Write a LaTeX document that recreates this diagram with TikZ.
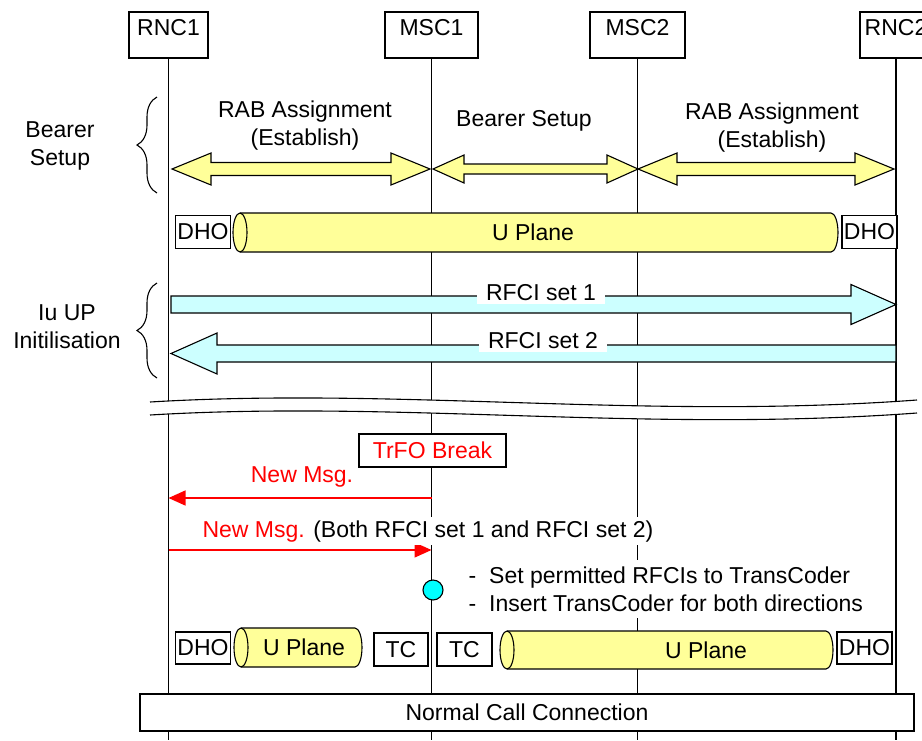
\documentclass[tikz,border=0pt]{standalone}
\usepackage{fontspec}
\setmainfont{Liberation Sans}
\usetikzlibrary{arrows.meta}
\usetikzlibrary{decorations.pathreplacing}
\definecolor{upyellow}{HTML}{FFFF99}
\definecolor{rficyan}{HTML}{CCFFFF}
\definecolor{tcdot}{HTML}{00FFFF}

\begin{document}
\begin{tikzpicture}[x=1pt, y=-1pt, line width=1.1pt, font=\fontsize{23}{28}\selectfont,
    entity/.style={draw, fill=white, anchor=base, text height=20pt, text depth=20pt, inner sep=3pt},
    box/.style={draw, fill=white, inner sep=0pt, minimum width=55pt, minimum height=33pt},
    pipe/.style={draw, fill=upyellow},
    rab/.style={draw, fill=upyellow},
    rfci/.style={draw, fill=rficyan},
    setlabel/.style={fill=white, anchor=base, inner xsep=9pt, inner ysep=3.5pt},
    msg/.style={draw=red, line width=1.3pt, -{Triangle[length=17pt, width=15pt]}},
    phase/.style={decorate, decoration={brace, amplitude=20pt}}]
    \useasboundingbox (0,0) rectangle (922,740);
    \node[entity, minimum width=79pt] (RNC1) at (168.5,35) {RNC1};
    \node[entity, minimum width=93pt] (MSC1) at (431.5,35) {MSC1};
    \node[entity, minimum width=95pt] (MSC2) at (637.5,35) {MSC2};
    \node[entity, minimum width=72pt] (RNC2) at (896,35) {RNC2};
    \coordinate (bot) at (0,740);
    \foreach \n in {RNC1,MSC1,MSC2,RNC2}
        \draw (\n.south) -- (\n.south |- bot);

    \draw[phase] (157,193) -- (157,97);
    \node[align=center] (bearer) at (60,146) {Bearer\\Setup};
    \draw[phase] (157,378) -- (157,283);
    \node[align=center] (iuup) at (67,327) {Iu UP\\Initilisation};

    \filldraw[rab] (172,169) -- (211,153) -- (211,162.5) -- (391,162.5) -- (391,153) -- (430,169)
        -- (391,185) -- (391,175.5) -- (211,175.5) -- (211,185) -- cycle;
    \filldraw[rab] (433,169) -- (464,155) -- (464,164) -- (607,164) -- (607,155) -- (638,169)
        -- (607,183) -- (607,174) -- (464,174) -- (464,183) -- cycle;
    \filldraw[rab] (638,169) -- (677,153) -- (677,162.5) -- (855,162.5) -- (855,153) -- (894,169)
        -- (855,185) -- (855,175.5) -- (677,175.5) -- (677,185) -- cycle;
    \node[align=center] (rab1) at (305,126) {RAB Assignment\\(Establish)};
    \node (bsetup) at (524,121) {Bearer Setup};
    \node[align=center] (rab2) at (772,128) {RAB Assignment\\(Establish)};

    \foreach \xl/\xr/\yc/\ry in {240/831/232.5/19.5, 241/355/647.5/19.5, 507/826/650/19} {
        \filldraw[pipe] (\xl,\yc-\ry) -- (\xr,\yc-\ry)
            arc[start angle=90, end angle=-90, x radius=7pt, y radius=\ry pt]
            -- (\xl,\yc+\ry) arc[start angle=270, end angle=90, x radius=7pt, y radius=\ry pt] -- cycle;
        \draw (\xl,\yc-\ry) arc[start angle=90, end angle=-90, x radius=7pt, y radius=\ry pt];
    }
    \node[box] (dho1) at (203,232) {DHO};
    \node (up1) at (533,232.5) {U Plane};
    \node[box] (dho2) at (869.5,232) {DHO};

    \filldraw[rfci] (171,296) -- (851,296) -- (851,284.5) -- (896,304.5) -- (851,324.5) -- (851,313)
        -- (171,313) -- cycle;
    \filldraw[rfci] (896,345) -- (217,345) -- (217,333) -- (171,353.5) -- (217,374) -- (217,362)
        -- (896,362) -- cycle;
    \node[setlabel] (set1) at (541,300) {RFCI set 1};
    \node[setlabel] (set2) at (543,348) {RFCI set 2};

    \fill[white] (150,402) .. controls (400,387) and (645,420) .. (917,400) -- (917,413)
        .. controls (645,433) and (400,400) .. (150,415) -- cycle;
    \draw (150,402) .. controls (400,387) and (645,420) .. (917,400);
    \draw (150,415) .. controls (400,400) and (645,433) .. (917,413);

    \node[draw, fill=white, text=red, minimum width=147pt, minimum height=33pt] (trfo) at (432.5,450.5) {TrFO Break};
    \coordinate (m1s) at (431.5,498);
    \coordinate (m1e) at (168.5,498);
    \coordinate (m2s) at (168.5,550);
    \coordinate (m2e) at (431.5,550);
    \draw[msg] (m1s) -- (m1e);
    \node[text=red, anchor=base] (nm1) at (302,482) {New Msg.};
    \draw[msg] (m2s) -- (m2e);
    \node[fill=white, anchor=base west, inner xsep=0pt, inner ysep=3pt] (nm2) at (202,537)
        {\textcolor{red}{New Msg.} (Both RFCI set 1 and RFCI set 2)};

    \node[circle, draw, fill=tcdot, minimum size=20pt, inner sep=0pt] (tcins) at (433,590) {};
    \node[fill=white, anchor=west, align=left, inner xsep=6pt, inner ysep=7pt] (note) at (462,589)
        {-\hspace{13pt}Set permitted RFCIs to TransCoder\\-\hspace{13pt}Insert TransCoder for both directions};

    \node[box, minimum height=32pt] (dho3) at (203,648) {DHO};
    \node (up2) at (304,647.5) {U Plane};
    \node[box, minimum width=54pt] (tc1) at (401,649.5) {TC};
    \node[box] (tc2) at (464.5,649.5) {TC};
    \node (up3) at (706,650) {U Plane};
    \node[box, minimum height=32pt] (dho4) at (864.5,648) {DHO};

    \node[draw, fill=white, minimum width=774pt, minimum height=37pt] (normal) at (527,712.5) {Normal Call Connection};
\end{tikzpicture}
\end{document}
